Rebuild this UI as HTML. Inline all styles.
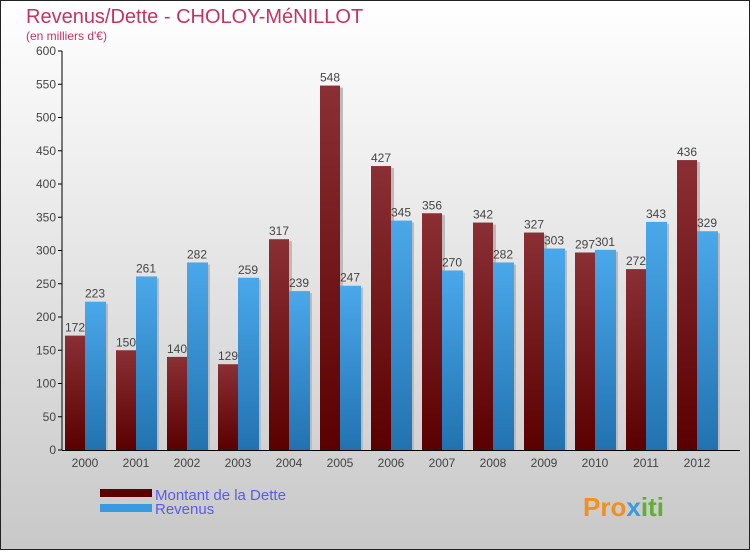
<!DOCTYPE html>
<html><head><meta charset="utf-8"><style>
body{margin:0;width:750px;height:550px;overflow:hidden;font-family:"Liberation Sans",sans-serif}
</style></head><body>
<svg width="750" height="550" xmlns="http://www.w3.org/2000/svg">
<defs>
<linearGradient id="bg" x1="0" y1="0" x2="0" y2="1"><stop offset="0" stop-color="#ffffff"/><stop offset="1" stop-color="#c8c8c8"/></linearGradient>
<linearGradient id="gd" x1="0" y1="0" x2="0" y2="1"><stop offset="0" stop-color="#8a3035"/><stop offset="1" stop-color="#5a0000"/></linearGradient>
<linearGradient id="gr" x1="0" y1="0" x2="0" y2="1"><stop offset="0" stop-color="#4aa8ea"/><stop offset="1" stop-color="#2272b0"/></linearGradient>
</defs>
<rect x="0.5" y="0.5" width="749" height="549" fill="url(#bg)" stroke="#222"/>
<text x="26" y="23" font-size="20" fill="#c8325f">Revenus/Dette - CHOLOY-MéNILLOT</text>
<text x="26" y="40" font-size="12" fill="#c8325f">(en milliers d'€)</text>
<g id="plot"></g>
<rect x="100" y="489" width="52" height="8" fill="#5a0000"/>
<rect x="100" y="504" width="52" height="8" fill="#3a9ae0"/>
<text x="155" y="500" font-size="15" fill="#5a5af0">Montant de la Dette</text>
<text x="155" y="514" font-size="15" fill="#5a5af0">Revenus</text>
<text x="583" y="516" font-size="26" font-weight="bold" fill="#f09020">Pro<tspan fill="#3a9ae0">x</tspan><tspan fill="#60b030">iti</tspan></text>
</svg>
<script>
const years=["2000","2001","2002","2003","2004","2005","2006","2007","2008","2009","2010","2011","2012"];
const dette=[172,150,140,129,317,548,427,356,342,327,297,272,436];
const revenus=[223,261,282,259,239,247,345,270,282,303,301,343,329];
const yTicks=[0,50,100,150,200,250,300,350,400,450,500,550,600];
const NS="http://www.w3.org/2000/svg";
const g=document.getElementById('plot');
const y0=450,yTop=51,x0=85,step=51,bw=20;
const Y=v=>y0-(v/600)*(y0-yTop);
const X=i=>x0+i*step;
function mk(t,a,txt){const e=document.createElementNS(NS,t);for(const k in a)e.setAttribute(k,a[k]);if(txt!==undefined)e.textContent=txt;g.appendChild(e);return e;}
yTicks.forEach(v=>{
 const t=mk('line',{x1:58,x2:62,y1:Y(v),y2:Y(v),stroke:'#000'});
 
 
 const l=mk('text',{x:56,y:Y(v)+4,'font-size':12,'text-anchor':'end',fill:'#444'},v);
 
 
});
years.forEach((yr,i)=>{
 const c=X(i);
 const s1=mk('rect',{x:c-bw+3,y:Y(dette[i])+2,width:bw,height:y0-Y(dette[i])-2,fill:'#bbb'});
 
 
 const s2=mk('rect',{x:c+3,y:Y(revenus[i])+2,width:bw,height:y0-Y(revenus[i])-2,fill:'#bbb'});
 
 
 const b1=mk('rect',{x:c-bw,y:Y(dette[i]),width:bw,height:y0-Y(dette[i]),fill:'url(#gd)'});
 
 
 const b2=mk('rect',{x:c,y:Y(revenus[i]),width:bw+1,height:y0-Y(revenus[i]),fill:'url(#gr)'});
 
 
 const l1=mk('text',{x:c-bw/2,y:Y(dette[i])-4,'font-size':12,'text-anchor':'middle',fill:'#444'},dette[i]);
 
 
 const l2=mk('text',{x:c+bw/2,y:Y(revenus[i])-4,'font-size':12,'text-anchor':'middle',fill:'#444'},revenus[i]);
 
 
 const xl=mk('text',{x:c,y:467,'font-size':12,'text-anchor':'middle',fill:'#444'},yr);
 
 
});
const ya=mk('line',{x1:62,x2:62,y1:yTop,y2:y0,stroke:'#000'});


const xa=mk('line',{x1:62,x2:740,y1:y0+0.5,y2:y0+0.5,stroke:'#000'});


</script>
</body></html>
